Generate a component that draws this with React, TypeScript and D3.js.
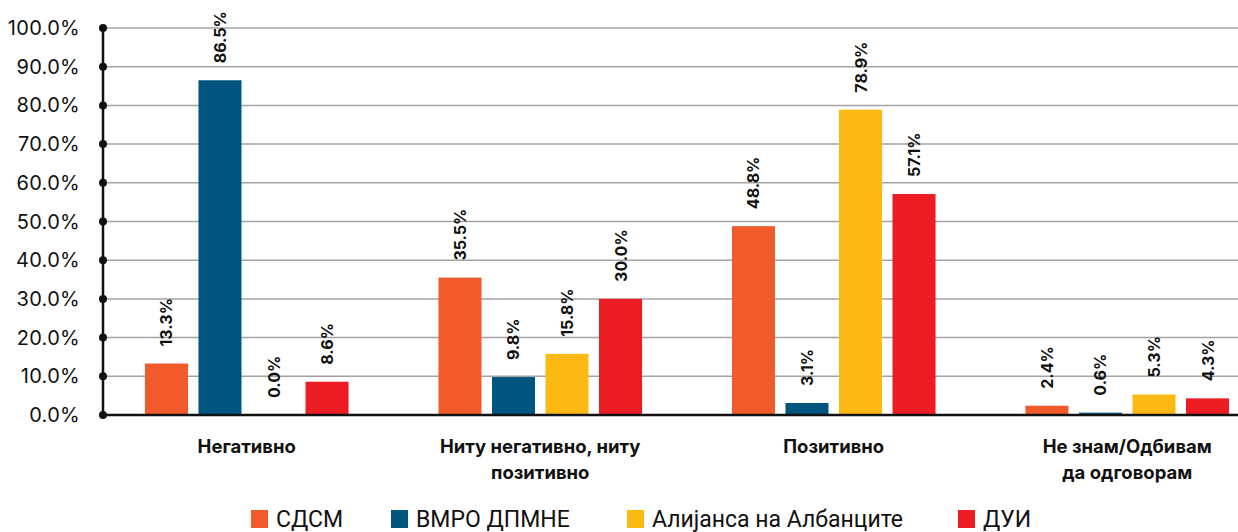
import React from "react";
import * as d3 from "d3";

// categories, series and values
const categories = ["Негативно", "Ниту негативно, ниту позитивно", "Позитивно", "Не знам/Одбивам да одговорам"];
const categoryLines = [["Негативно"], ["Ниту негативно, ниту", "позитивно"], ["Позитивно"], ["Не знам/Одбивам", "да одговорам"]];
const seriesNames = ["СДСМ", "ВМРО ДПМНЕ", "Алијанса на Албанците", "ДУИ"];
const seriesColors = ["#F15A2B", "#00557F", "#FDB913", "#ED1C24"];
const sdsm = [13.3, 35.5, 48.8, 2.4];
const vmro = [86.5, 9.8, 3.1, 0.6];
const alijansa = [0.0, 15.8, 78.9, 5.3];
const dui = [8.6, 30.0, 57.1, 4.3];
const yTicks = [0, 10, 20, 30, 40, 50, 60, 70, 80, 90, 100];
const legendX = [251, 391, 627, 958];

const values = [sdsm, vmro, alijansa, dui];

export default function App() {
  const width = 1238, height = 532;
  const axisX = 103;

  const y = d3.scaleLinear().domain([0, 100]).range([415, 28]);
  const x0 = d3.scaleBand().domain(categories).range([100, 1274]);
  const x1 = d3.scaleBand()
    .domain(seriesNames)
    .range([0, x0.bandwidth()])
    .paddingInner(0.196)
    .paddingOuter(0.84);

  const labelFont = "Inter, 'DejaVu Sans', sans-serif";

  return (
    <svg width={width} height={height} style={{position: "absolute", left: 0, top: 0, background: "#fff"}}>
      {/* grid lines */}
      {yTicks.filter(t => t > 0).map(t => (
        <line key={"g" + t} x1={axisX} x2={width} y1={y(t)} y2={y(t)} stroke="#a3a3a3" strokeWidth={1.5} />
      ))}

      {/* bars */}
      {categories.map((c, ci) => (
        <g key={c} transform={`translate(${x0(c)},0)`}>
          {seriesNames.map((s, si) => {
            const v = values[si][ci];
            const bx = x1(s)!;
            const cx = bx + x1.bandwidth() / 2;
            return (
              <g key={s}>
                <rect x={bx} y={y(v)} width={x1.bandwidth()} height={y(0) - y(v)} fill={seriesColors[si]} />
                <text
                  transform={`translate(${cx + 6},${y(v) - 17}) rotate(-90)`}
                  fontFamily={labelFont}
                  fontWeight="bold"
                  fontSize={16}
                  fill="#111"
                >
                  {v.toFixed(1) + "%"}
                </text>
              </g>
            );
          })}
        </g>
      ))}

      {/* baseline */}
      <line x1={axisX} x2={width} y1={y(0)} y2={y(0)} stroke="#111" strokeWidth={2.5} />

      {/* y axis */}
      <line x1={axisX} x2={axisX} y1={y(100)} y2={y(0)} stroke="#111" strokeWidth={2.5} />
      {yTicks.map(t => (
        <g key={"t" + t}>
          <circle cx={axisX} cy={y(t)} r={4} fill="#111" />
          <text x={80} y={y(t) + 7} textAnchor="end" fontFamily={labelFont} fontSize={20} fill="#111" style={{letterSpacing: "0.3px"}}>
            {t.toFixed(1) + "%"}
          </text>
        </g>
      ))}

      {/* category labels */}
      {categories.map((c, ci) => (
        <text key={"c" + c} textAnchor="middle" fontFamily={labelFont} fontWeight="bold" fontSize={18.5} fill="#111">
          {categoryLines[ci].map((ln, li) => (
            <tspan key={li} x={x0(c)! + x0.bandwidth() / 2} y={453 + li * 26}>{ln}</tspan>
          ))}
        </text>
      ))}

      {/* legend */}
      {seriesNames.map((s, si) => (
        <g key={"l" + s} transform={`translate(${legendX[si]},510)`}>
          <rect x={0} y={0} width={17} height={18} fill={seriesColors[si]} />
          <text x={25} y={17} fontFamily="Roboto, sans-serif" fontSize={23} fill="#111">{s}</text>
        </g>
      ))}
    </svg>
  );
}
